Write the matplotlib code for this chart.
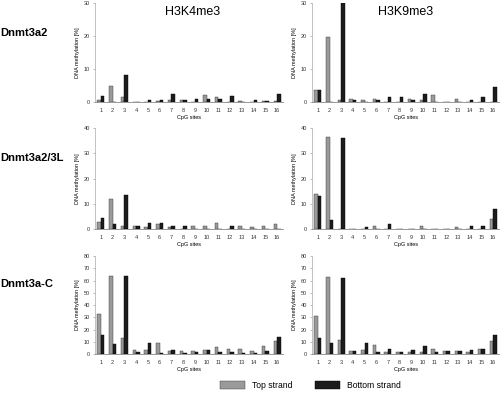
import numpy as np
import matplotlib
matplotlib.use('Agg')
import matplotlib.pyplot as plt

plt.rcParams['font.family'] = ['Liberation Sans', 'DejaVu Sans']

sites = np.arange(1, 17)

# H3K4me3
k4_3a2_top = [0.7, 4.8, 1.5, 0, 0.1, 0.4, 0.6, 0.6, 0.1, 2.1, 1.5, 0, 0.4, 0, 0.4, 0.4]
k4_3a2_bot = [1.8, 0, 8.2, 0, 0.7, 0.7, 2.4, 0.6, 0.8, 0.8, 0.9, 1.8, 0, 0.6, 0.3, 2.4]
k4_3l_top = [2.8, 11.8, 1.4, 1.3, 0.9, 2.0, 0.7, 0, 1.3, 1.2, 2.3, 0, 1.3, 0.8, 1.3, 2.0]
k4_3l_bot = [4.6, 2.2, 13.4, 1.3, 2.5, 2.4, 1.1, 1.3, 0, 0, 0, 1.3, 0, 0, 0, 0]
k4_c_top = [32.4, 64, 12.8, 3.3, 3.5, 9.0, 2.5, 2.5, 2.5, 3.5, 6.0, 4.4, 3.8, 2.3, 6.3, 10.3]
k4_c_bot = [15.5, 8.4, 63.5, 1.6, 8.7, 1.2, 3.5, 0.8, 1.6, 3.5, 1.9, 1.9, 1.2, 0.5, 2.6, 13.6]

# H3K9me3
k9_3a2_top = [3.6, 19.8, 0.6, 0.9, 0.6, 0.8, 0, 0, 0.8, 0.7, 2.0, 0, 0.9, 0, 0, 0]
k9_3a2_bot = [3.7, 0, 30, 0.6, 0, 0.5, 1.5, 1.4, 0.6, 2.3, 0, 0, 0, 0.6, 1.5, 4.4]
k9_3l_top = [13.8, 36.5, 0, 0, 0.2, 1.2, 0, 0, 0, 1.2, 0, 0, 0.9, 0, 0, 4.0]
k9_3l_bot = [13.0, 3.5, 36.0, 0, 1.0, 0, 2.2, 0, 0, 0, 0, 0, 0, 1.4, 1.4, 7.9]
k9_c_top = [31.3, 63, 11.2, 2.5, 3.0, 7.3, 1.9, 1.6, 1.6, 1.6, 4.1, 2.3, 2.5, 1.6, 4.0, 10.6]
k9_c_bot = [12.8, 8.7, 62, 2.2, 8.7, 1.6, 3.8, 1.6, 3.5, 6.5, 2.0, 2.3, 2.5, 3.5, 4.0, 15.5]

rows = ['Dnmt3a2', 'Dnmt3a2/3L', 'Dnmt3a-C']
cols = ['H3K4me3', 'H3K9me3']
panels = [
    [(k4_3a2_top, k4_3a2_bot), (k9_3a2_top, k9_3a2_bot)],
    [(k4_3l_top, k4_3l_bot), (k9_3l_top, k9_3l_bot)],
    [(k4_c_top, k4_c_bot), (k9_c_top, k9_c_bot)],
]
ymax = [30, 40, 80]
ystep = [10, 10, 10]

fig = plt.figure(figsize=(5, 3.93), dpi=100)

row_pos = [(0.7405, 0.252), (0.417, 0.257), (0.0992, 0.249)]
col_pos = [(0.19, 0.376), (0.624, 0.374)]
row_label_y = [33, 158, 284]

w = 0.3
gray = '#9a9a9a'
black = '#1c1c1c'

for i in range(3):
    for j in range(2):
        ax = fig.add_axes([col_pos[j][0], row_pos[i][0], col_pos[j][1], row_pos[i][1]])
        top, bot = panels[i][j]
        b1 = ax.bar(sites - w / 2, top, width=w, color=gray, edgecolor='#333333', linewidth=0.3)
        b2 = ax.bar(sites + w / 2, bot, width=w, color=black, edgecolor='#000000', linewidth=0.3)
        ax.set_xlim(0.5, 16.5)
        ax.set_ylim(0, ymax[i])
        ax.set_yticks(np.arange(0, ymax[i] + 1, ystep[i]))
        ax.set_xticks(sites)
        ax.tick_params(axis='both', labelsize=4, length=1.5, width=0.4, color='#888888',
                       labelcolor='#333333', pad=2)
        ax.tick_params(axis='x', length=0, pad=4)
        for s in ['top', 'right']:
            ax.spines[s].set_visible(False)
        ax.spines['left'].set_color('#aaaaaa')
        ax.spines['left'].set_linewidth(0.5)
        ax.spines['bottom'].set_color('#888888')
        ax.spines['bottom'].set_linewidth(0.6)
        ax.set_xlabel('CpG sites', fontsize=4, labelpad=2)
        ax.set_ylabel('DNA methylation [%]', fontsize=4, labelpad=3)
        ax.patch.set_alpha(0)
    fig.text(0.0, 1 - row_label_y[i] / 393, rows[i], fontsize=8, fontweight='bold',
             va='center', ha='left')

fig.text(193 / 500, 1 - 12 / 393, cols[0], fontsize=9, ha='center', va='center')
fig.text(406 / 500, 1 - 12 / 393, cols[1], fontsize=9, ha='center', va='center')

fig.legend([b1, b2], ['Top strand', 'Bottom strand'], loc='lower left',
           bbox_to_anchor=(0.425, -0.012), ncol=2, frameon=False, fontsize=6.2,
           handlelength=2.9, handleheight=1.2, columnspacing=2.6, handletextpad=0.8)

fig.savefig('out.png', dpi=100)
